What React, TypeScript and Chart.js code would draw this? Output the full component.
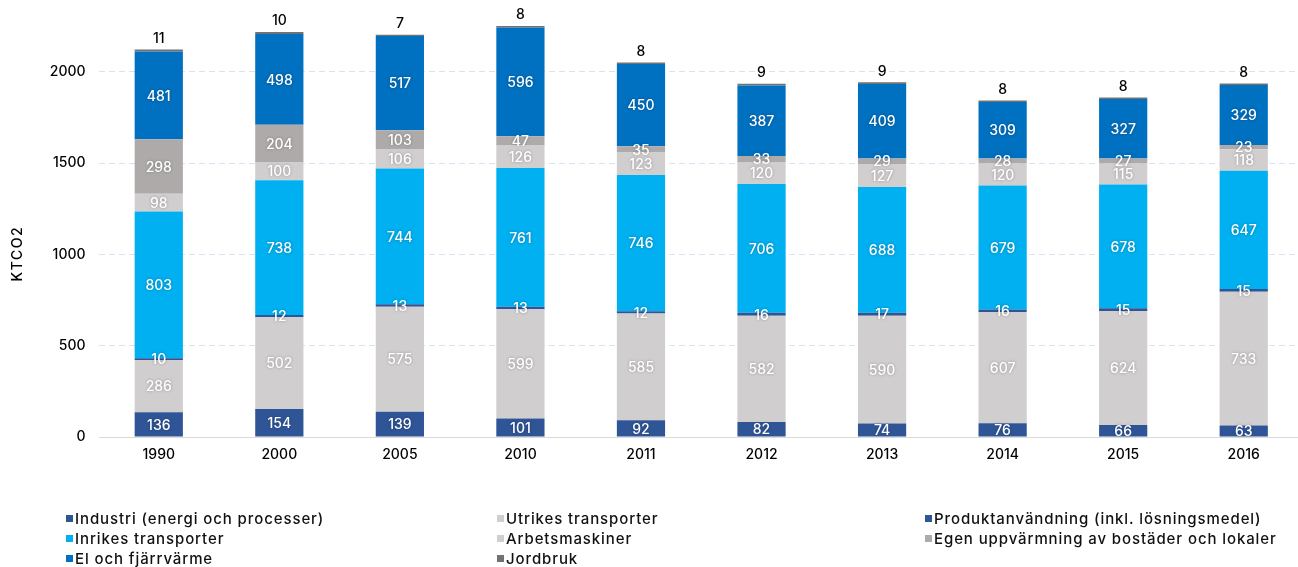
import React, { useEffect, useRef } from 'react';
import { Chart, registerables } from 'chart.js';

Chart.register(...registerables);

const years = ['1990', '2000', '2005', '2010', '2011', '2012', '2013', '2014', '2015', '2016'];

const industri = [136, 154, 139, 101, 92, 82, 74, 76, 66, 63];
const utrikes = [286, 502, 575, 599, 585, 582, 590, 607, 624, 733];
const produkt = [10, 12, 13, 13, 12, 16, 17, 16, 15, 15];
const inrikes = [803, 738, 744, 761, 746, 706, 688, 679, 678, 647];
const arbets = [98, 100, 106, 126, 123, 120, 127, 120, 115, 118];
const egen = [298, 204, 103, 47, 35, 33, 29, 28, 27, 23];
const el = [481, 498, 517, 596, 450, 387, 409, 309, 327, 329];
const jordbruk = [11, 10, 7, 8, 8, 9, 9, 8, 8, 8];

const seriesNames = [
  'Industri (energi och processer)',
  'Utrikes transporter',
  'Produktanvändning (inkl. lösningsmedel)',
  'Inrikes transporter',
  'Arbetsmaskiner',
  'Egen uppvärmning av bostäder och lokaler',
  'El och fjärrvärme',
  'Jordbruk',
];
const seriesData = [industri, utrikes, produkt, inrikes, arbets, egen, el, jordbruk];
const seriesColors = ['#2F5597', '#D0CECE', '#2F5597', '#00B0F0', '#D0CECE', '#AEAAAA', '#0070C0', '#767171'];

const yTicks = [0, 500, 1000, 1500, 2000];
const yMax = 2350;
const yTitle = 'KTCO2';

const FONT = 'Inter, sans-serif';

const labelPlugin = {
  id: 'segLabels',
  afterDatasetsDraw(chart: any) {
    const ctx = chart.ctx;
    const n = chart.data.datasets.length;
    ctx.save();
    ctx.textAlign = 'center';
    ctx.textBaseline = 'middle';
    ctx.font = `500 14px ${FONT}`;
    for (let i = 0; i < n; i++) {
      const meta = chart.getDatasetMeta(i);
      const data = chart.data.datasets[i].data as number[];
      meta.data.forEach((bar: any, j: number) => {
        const p = bar.getProps(['x', 'y', 'base'], true);
        const txt = String(data[j]);
        if (i === n - 1) {
          ctx.shadowColor = 'transparent';
          ctx.shadowBlur = 0;
          ctx.fillStyle = '#000';
          ctx.fillText(txt, p.x, p.y - 11);
        } else {
          ctx.shadowColor = 'rgba(0,0,0,0.3)';
          ctx.shadowBlur = 3;
          ctx.fillStyle = '#FFFFFF';
          ctx.fillText(txt, p.x, (p.y + p.base) / 2 + 1);
        }
      });
    }
    ctx.restore();
  },
  afterDraw(chart: any) {
    const ctx = chart.ctx;
    const ys = chart.scales.y;
    ctx.save();
    ctx.font = `500 14px ${FONT}`;
    (ctx as any).letterSpacing = '1.5px';
    ctx.fillStyle = '#000';
    ctx.textAlign = 'center';
    ctx.textBaseline = 'middle';
    ctx.translate(17.5, ys.getPixelForValue(1000));
    ctx.rotate(-Math.PI / 2);
    ctx.fillText(yTitle, 0.75, 0);
    ctx.restore();
  },
};

export default function App() {
  const ref = useRef<HTMLCanvasElement>(null);

  useEffect(() => {
    const datasets = seriesData.map((d, i) => ({
      label: seriesNames[i],
      data: d,
      backgroundColor: seriesColors[i],
      borderWidth: 0,
      barPercentage: 0.4,
      categoryPercentage: 1,
      stack: 's',
    }));
    const chart = new Chart(ref.current as HTMLCanvasElement, {
      type: 'bar',
      data: { labels: years, datasets },
      options: {
        animation: false,
        responsive: false,
        maintainAspectRatio: false,
        layout: { padding: { top: 8, left: 0, right: 0, bottom: 0 } },
        plugins: { legend: { display: false }, tooltip: { enabled: false } },
        scales: {
          x: {
            stacked: true,
            grid: { display: false, drawTicks: false },
            border: { display: false },
            ticks: { color: '#000', font: { family: FONT, size: 14, weight: '500' }, padding: 9 },
            afterFit: (s: any) => {
              s.height = 130;
            },
          },
          y: {
            stacked: true,
            min: 0,
            max: yMax,
            afterBuildTicks: (s: any) => {
              s.ticks = yTicks.map((v) => ({ value: v }));
            },
            afterFit: (s: any) => {
              s.width = 98.5;
              s.paddingTop = 0;
              s.paddingBottom = 0;
            },
            grid: {
              drawTicks: false,
              color: (c: any) => (c.tick && c.tick.value === 0 ? '#D9D9D9' : '#D5E3F2'),
              lineWidth: 1,
            },
            border: {
              display: false,
              dash: (c: any) => (c.tick && c.tick.value === 0 ? [] : [6, 4]),
            },
            ticks: {
              color: '#000',
              font: { family: FONT, size: 14, weight: '500' },
              padding: 13,
              callback: (v: any) => String(v),
            },
            title: { display: false },
          },
        },
      },
      plugins: [labelPlugin],
    } as any);
    return () => chart.destroy();
  }, []);

  const colX = [66, 497, 925];
  const rowY = [518, 538, 558];

  return (
    <div style={{ position: 'fixed', left: 0, top: 0, width: 1298, height: 567, overflow: 'hidden', background: '#fff' }}>
      <canvas ref={ref} width={1304} height={567} style={{ position: 'absolute', left: 0, top: 0 }} />
      {seriesNames.map((name, k) => (
        <div
          key={name}
          style={{
            position: 'absolute',
            left: colX[k % 3],
            top: rowY[Math.floor(k / 3)] - 10,
            height: 20,
            display: 'flex',
            alignItems: 'center',
            fontFamily: FONT,
            fontSize: 15,
            fontWeight: 500,
            letterSpacing: '0.9px',
            color: '#111',
            whiteSpace: 'nowrap',
          }}
        >
          <span style={{ display: 'inline-block', width: 7, height: 7, background: seriesColors[k], marginRight: 2 }} />
          {name}
        </div>
      ))}
    </div>
  );
}
